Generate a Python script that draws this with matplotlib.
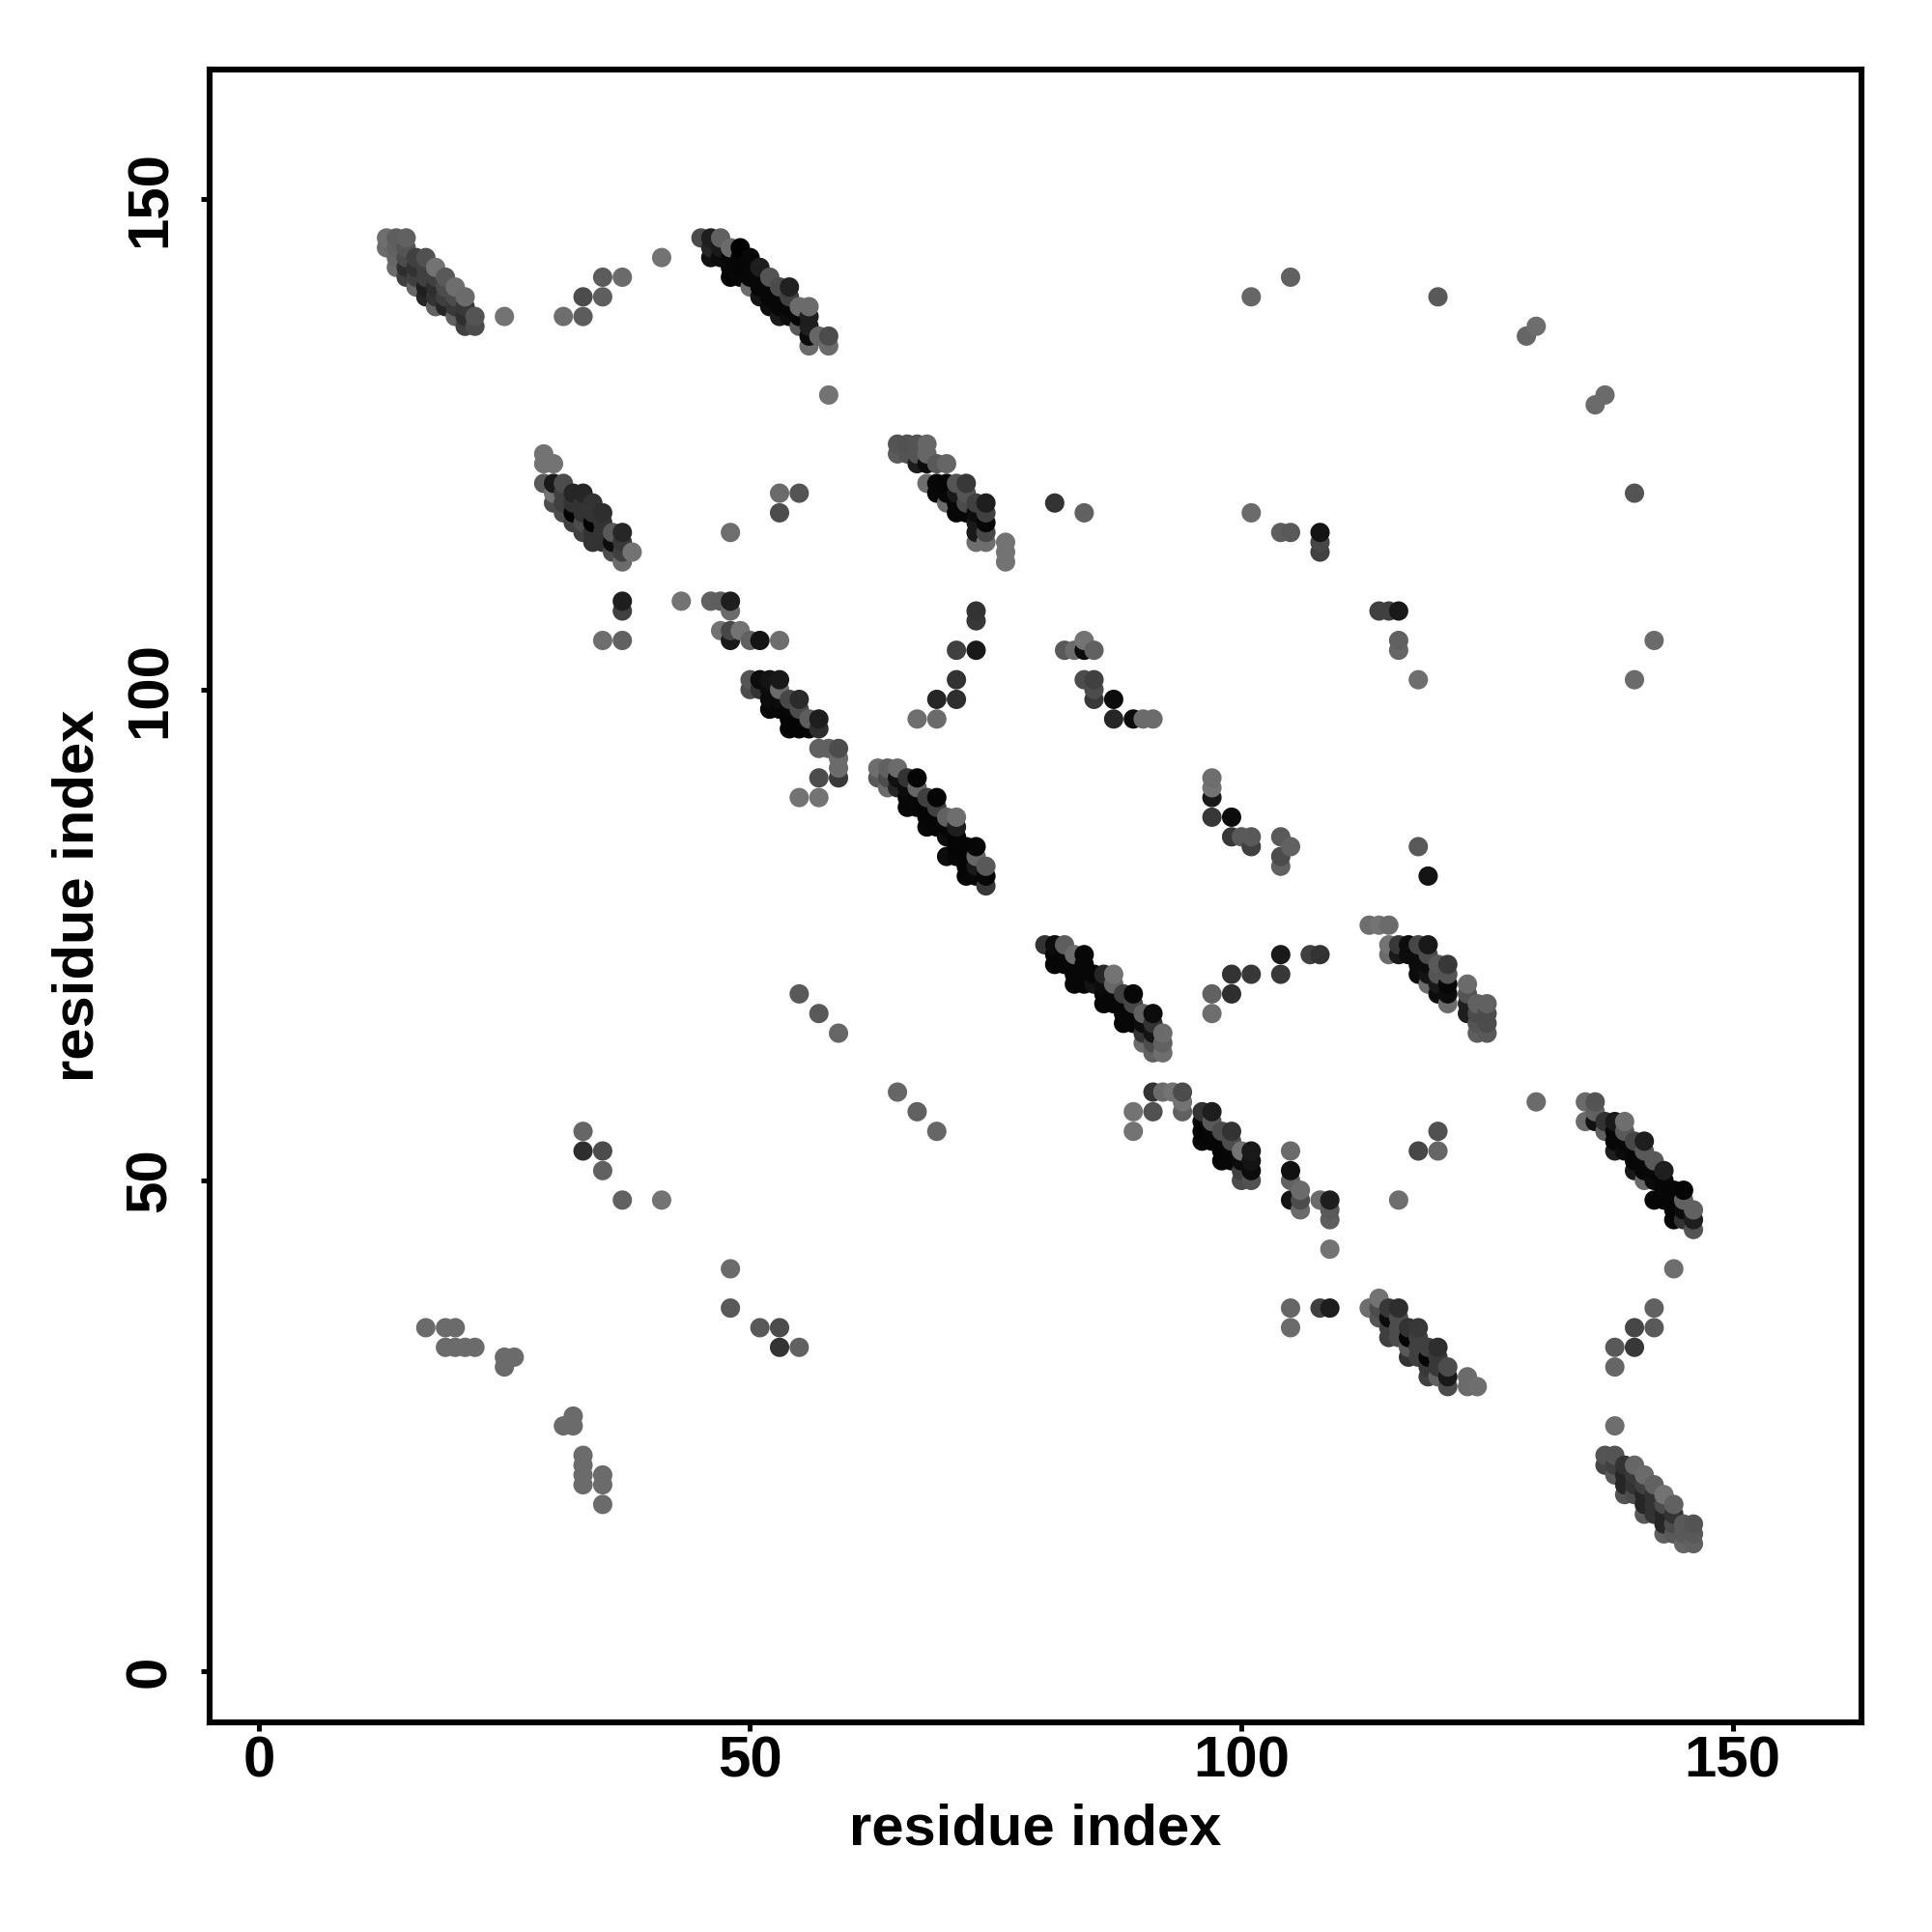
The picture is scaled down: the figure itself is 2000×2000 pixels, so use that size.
import numpy as np
import matplotlib
matplotlib.use("Agg")
import matplotlib.pyplot as plt

plt.rcParams['font.family'] = ['Liberation Sans', 'DejaVu Sans']

# (residue x, residue y, grey level)
band_a = [(13,146,.43),(14,146,.37),(15,146,.38),(13,145,.42),(14,145,.38),(15,145,.33),
 (14,144,.4),(15,144,.3),(16,144,.25),(17,144,.32),(14,143,.42),(15,143,.18),(16,143,.2),(17,143,.25),(18,143,.45),
 (15,142,.25),(16,142,.25),(17,142,.25),(18,142,.25),(19,142,.35),(16,141,.4),(17,141,.12),(18,141,.18),(19,141,.3),(20,141,.43),
 (17,140,.15),(18,140,.2),(19,140,.25),(20,140,.3),(21,140,.42),(18,139,.38),(19,139,.15),(20,139,.22),(21,139,.22),
 (20,138,.38),(21,138,.18),(22,138,.33),(21,137,.25),(22,137,.3)]
band_b = [(45,146,.3),(46,146,.12),(47,146,.38),(46,145,.15),(47,145,.1),(48,145,.42),(49,145,.0),
 (46,144,.07),(47,144,.05),(48,144,.03),(49,144,.02),(50,144,.03),(48,143,.03),(49,143,.02),(50,143,.03),(51,143,.12),
 (48,142,.02),(49,142,.03),(50,142,.03),(51,142,.03),(52,142,.33),(50,141,.42),(51,141,.03),(52,141,.03),(53,141,.3),(54,141,.13),
 (51,140,.08),(52,140,.03),(53,140,.03),(54,140,.25),(52,139,.05),(53,139,.03),(54,139,.03),(55,139,.42),(56,139,.42),
 (53,138,.1),(54,138,.05),(55,138,.03),(56,138,.12),(55,137,.35),(56,137,.12),(56,136,.05),(57,136,.4),(58,136,.3),(56,135,.42),(58,135,.42)]
band_c = [(29,124,.45),(29,123,.45),(30,123,.45),(29,121,.35),(30,121,.1),(31,121,.3),(30,120,.45),(31,120,.25),(32,120,.15),(33,120,.15),
 (30,119,.3),(31,119,.25),(32,119,.2),(33,119,.2),(34,119,.2),(31,118,.3),(32,118,.0),(33,118,.2),(34,118,.2),(35,118,.18),
 (32,117,.25),(33,117,.3),(34,117,.0),(35,117,.2),(33,116,.25),(34,116,.2),(35,116,.2),(36,116,.35),(37,116,.15),
 (34,115,.2),(35,115,.2),(36,115,.05),(37,115,.22),(36,114,.3),(37,114,.25),(38,114,.45),(37,113,.42)]
band_d = [(65,125,.33),(66,125,.32),(67,125,.33),(68,125,.4),(65,124,.36),(66,124,.33),(67,124,.33),(68,124,.4),
 (67,123,.12),(68,123,.05),(69,123,.35),(70,123,.4),(68,121,.43),(69,121,.03),(70,121,.02),(71,121,.33),(72,121,.22),
 (69,120,.03),(70,120,.03),(71,120,.1),(72,120,.33),(70,119,.42),(71,119,.03),(72,119,.3),(73,119,.25),(74,119,.12),
 (71,118,.03),(72,118,.03),(73,118,.05),(74,118,.25),(73,117,.1),(74,117,.03),(73,116,.1),(74,116,.28),(73,115,.43),(74,115,.43),
 (76,115,.45),(76,114,.45),(76,113,.45)]
band_e = [(50,101,.33),(51,101,.05),(52,101,.08),(53,101,.1),(50,100,.3),(51,100,.2),(52,100,.05),(53,100,.42),
 (52,99,.05),(53,99,.05),(54,99,.28),(55,99,.17),(52,98,.03),(53,98,.03),(54,98,.03),(55,98,.3),
 (54,97,.02),(55,97,.02),(56,97,.37),(57,97,.12),(54,96,.02),(55,96,.02),(56,96,.02),(57,96,.18),
 (57,94,.38),(58,94,.38),(59,94,.3),(59,93,.42),(59,92,.42),(57,91,.3),(59,91,.22),(55,89,.45),(57,89,.45)]
band_f = [(63,92,.43),(64,92,.38),(65,92,.42),(63,91,.35),(64,91,.3),(65,91,.07),(66,91,.2),(67,91,.02),
 (64,90,.42),(65,90,.15),(66,90,.05),(67,90,.4),(66,89,.03),(67,89,.03),(68,89,.25),(69,89,.02),
 (66,88,.03),(67,88,.03),(68,88,.02),(69,88,.25),(68,87,.02),(69,87,.02),(70,87,.38),(71,87,.43),
 (68,86,.03),(69,86,.02),(70,86,.03),(71,86,.12),(70,85,.05),(71,85,.02),(71,84,.02),(72,84,.02),(73,84,.03),
 (70,83,.05),(71,83,.03),(72,83,.02),(73,83,.4),(72,82,.02),(73,82,.1),(74,82,.35),(72,81,.03),(73,81,.03),(74,81,.03),(74,80,.22)]
band_g = [(80,74,.2),(81,74,.05),(82,74,.37),(81,73,.03),(82,73,.03),(83,73,.42),(84,73,.03),(81,72,.02),(82,72,.03),(83,72,.03),(84,72,.03),
 (83,71,.03),(84,71,.03),(85,71,.03),(86,71,.15),(87,71,.45),(83,70,.03),(84,70,.03),(85,70,.08),(86,70,.05),(87,70,.4),
 (86,69,.03),(87,69,.03),(88,69,.25),(89,69,.03),(86,68,.03),(87,68,.03),(88,68,.03),(89,68,.28),
 (88,67,.03),(89,67,.03),(90,67,.38),(91,67,.05),(88,66,.03),(89,66,.03),(90,66,.05),(91,66,.2),
 (90,65,.2),(91,65,.08),(92,65,.42),(90,64,.42),(91,64,.3),(92,64,.38),(91,63,.38),(92,63,.43)]
band_h = [(113,76,.43),(114,76,.45),(115,76,.42),(115,74,.45),(116,74,.22),(117,74,.05),(118,74,.28),(119,74,.1),
 (115,73,.42),(116,73,.1),(117,73,.05),(118,73,.05),(119,73,.3),(118,72,.05),(119,72,.05),(120,72,.35),(121,72,.22),
 (118,71,.05),(119,71,.08),(120,71,.33),(121,71,.33),(119,70,.42),(120,70,.1),(121,70,.03),(120,69,.05),(121,69,.05),(121,68,.42),
 (123,70,.42),(123,69,.33),(123,68,.12),(123,67,.12),(124,68,.38),(125,68,.38),(124,67,.3),(125,67,.3),(124,66,.33),(125,66,.3),(124,65,.37),(125,65,.35)]
band_i = [(96,57,.2),(97,57,.12),(96,56,.02),(97,56,.35),(96,55,.02),(97,55,.03),(98,55,.3),(99,55,.2),
 (96,54,.03),(97,54,.02),(98,54,.03),(99,54,.3),(98,53,.02),(99,53,.03),(100,53,.45),(101,53,.1),
 (98,52,.03),(99,52,.03),(100,52,.05),(101,52,.08),(100,51,.25),(101,51,.05),(100,50,.3),(101,50,.32)]
band_j = [(135,58,.42),(136,58,.33),(136,57,.38),(135,56,.42),(136,56,.07),(137,56,.2),(138,56,.1),(139,56,.43),
 (137,55,.38),(138,55,.03),(139,55,.35),(138,54,.03),(139,54,.03),(140,54,.28),(141,54,.12),
 (138,53,.12),(139,53,.05),(140,53,.03),(141,53,.35),(140,52,.03),(141,52,.03),(142,52,.35),
 (140,51,.1),(141,51,.03),(142,51,.03),(143,51,.12),(141,50,.42),(142,50,.05),(143,50,.03),
 (143,49,.03),(144,49,.03),(145,49,.02),(142,48,.02),(143,48,.02),(144,48,.02),(145,48,.38),
 (144,47,.02),(145,47,.05),(146,47,.38),(144,46,.03),(145,46,.2),(146,46,.12),(146,45,.33)]
band_k = [(113,37,.43),(114,38,.45),(114,37,.3),(114,36,.33),(115,37,.22),(116,37,.18),(115,36,.05),(116,36,.3),
 (115,35,.25),(116,35,.3),(117,35,.2),(118,35,.22),(115,34,.25),(116,34,.3),(117,34,.02),(118,34,.25),
 (117,33,.35),(118,33,.25),(119,33,.25),(120,33,.18),(117,32,.2),(118,32,.25),(119,32,.02),(120,32,.22),
 (119,31,.22),(120,31,.22),(121,31,.3),(119,30,.25),(120,30,.38),(121,30,.1),(121,29,.3),(123,30,.42),(123,29,.42),(124,29,.43)]
band_l = [(137,22,.33),(138,22,.33),(137,21,.27),(138,21,.25),(139,21,.2),(140,21,.4),(138,20,.35),(139,20,.15),(140,20,.22),(141,20,.42),
 (139,19,.15),(140,19,.2),(141,19,.25),(142,19,.38),(139,18,.33),(140,18,.3),(141,18,.15),(142,18,.2),(143,18,.45),
 (141,17,.15),(142,17,.2),(143,17,.3),(144,17,.38),(141,16,.35),(142,16,.2),(143,16,.15),(144,16,.2),
 (143,15,.15),(144,15,.3),(145,15,.35),(146,15,.33),(143,14,.38),(144,14,.35),(145,14,.35),(146,14,.35),(145,13,.4),(146,13,.38)]
isolated_upper = [(25,138,.45),(31,138,.43),(33,138,.36),(33,140,.3),(35,140,.37),(35,142,.36),(37,142,.42),(41,144,.45),(58,130,.45),
 (37,109,.12),(37,108,.25),(35,105,.43),(37,105,.38),(43,109,.45),(46,109,.38),(47,109,.37),(48,109,.12),(48,108,.42),
 (47,106,.45),(48,106,.28),(49,106,.45),(48,105,.1),(50,105,.38),(51,105,.08),(53,105,.43),(53,120,.42),(55,120,.33),(53,118,.3),(48,116,.43),
 (81,119,.2),(84,118,.38),(101,118,.42),(104,116,.37),(105,116,.35),(108,116,.08),(108,115,.28),(108,114,.25),
 (73,108,.2),(73,107,.22),(71,104,.25),(73,104,.1),(71,101,.2),(69,99,.15),(71,99,.18),(67,97,.43),(69,97,.42),
 (82,104,.35),(83,104,.42),(84,104,.05),(84,105,.45),(85,104,.38),(84,101,.3),(85,101,.25),(85,100,.3),(85,99,.22),(87,99,.05),
 (87,97,.15),(89,97,.05),(90,97,.42),(91,97,.42),(97,91,.43),(97,90,.45),(97,89,.1),(97,87,.22),(99,87,.05),(99,85,.22),(100,85,.35),(101,85,.35),(101,84,.25),
 (104,85,.35),(105,84,.38),(104,83,.3),(104,82,.38),(118,84,.35),(119,81,.08),
 (142,105,.42),(140,101,.42),(140,120,.33),(136,129,.42),(137,130,.42),(129,136,.4),(130,137,.43),(120,140,.35),(105,142,.38),(101,140,.4),
 (114,108,.25),(115,108,.25),(116,108,.1),(116,105,.38),(116,104,.4),(118,101,.43)]
isolated_lower = [(97,69,.38),(97,67,.43),(99,71,.2),(99,69,.18),(101,71,.22),(104,73,.1),(104,71,.22),(107,73,.25),(108,73,.2),
 (91,59,.2),(92,59,.42),(93,59,.45),(94,59,.3),(94,58,.45),(94,57,.38),(91,57,.32),(89,57,.45),(89,55,.45),
 (105,53,.42),(105,51,.07),(105,50,.38),(106,49,.42),(106,48,.3),(106,47,.42),(105,48,.08),(108,48,.42),(109,48,.12),(109,47,.35),(109,46,.37),(109,43,.45),
 (116,48,.43),(120,55,.32),(118,53,.28),(120,53,.4),(105,37,.4),(105,35,.42),(108,37,.25),(109,37,.12),(130,58,.42),
 (144,41,.43),(142,37,.38),(140,35,.28),(142,35,.35),(138,33,.35),(140,33,.22),(138,31,.4),(138,25,.43),
 (65,59,.4),(67,57,.38),(69,55,.4),(55,69,.35),(57,67,.35),(59,65,.4),
 (33,55,.4),(33,53,.18),(35,53,.3),(35,51,.38),(37,48,.38),(41,48,.45),(48,41,.42),(48,37,.35),(51,35,.35),(53,35,.3),(53,33,.2),(55,33,.38),
 (17,35,.42),(19,35,.42),(20,35,.42),(19,33,.42),(20,33,.42),(21,33,.42),(22,33,.42),(25,32,.42),(26,32,.42),(25,31,.42),
 (31,25,.42),(32,25,.42),(32,26,.42),(33,22,.42),(33,21,.42),(33,20,.42),(33,19,.42),(35,20,.42),(35,19,.42),(35,17,.42)]

tick_values = [0, 50, 100, 150]
axis_label = "residue index"

contacts = np.array(band_a + band_b + band_c + band_d + band_e + band_f + band_g + band_h +
                    band_i + band_j + band_k + band_l + isolated_upper + isolated_lower)
order = np.lexsort((contacts[:, 1], contacts[:, 0]))
contacts = contacts[order]

fig = plt.figure(figsize=(10, 10), dpi=200)
ax = fig.add_axes([217/2000, 1 - 1783/2000, (1927-217)/2000, (1783-72)/2000])
ax.scatter(contacts[:, 0], contacts[:, 1], c=contacts[:, 2], cmap='gray', vmin=0, vmax=1,
           s=52, linewidths=0, zorder=3)
ax.set_xlim(-5.0, 163.1)
ax.set_ylim(-5.2, 163.15)
ax.set_xticks(tick_values)
ax.set_yticks(tick_values)
ax.tick_params(length=3.2, width=1.8, labelsize=21.6)
ax.tick_params(axis='x', pad=1.8)
ax.tick_params(axis='y', pad=8.9)
for lab in ax.get_xticklabels() + ax.get_yticklabels():
    lab.set_fontweight('bold')
for lab in ax.get_yticklabels():
    lab.set_rotation(90)
    lab.set_va('center')
for s in ax.spines.values():
    s.set_linewidth(2.2)
ax.set_xlabel(axis_label, fontsize=21.5, fontweight='bold', labelpad=5.2)
ax.set_ylabel(axis_label, fontsize=21.5, fontweight='bold', labelpad=7)
fig.savefig("out.png", dpi=200, facecolor='white')
